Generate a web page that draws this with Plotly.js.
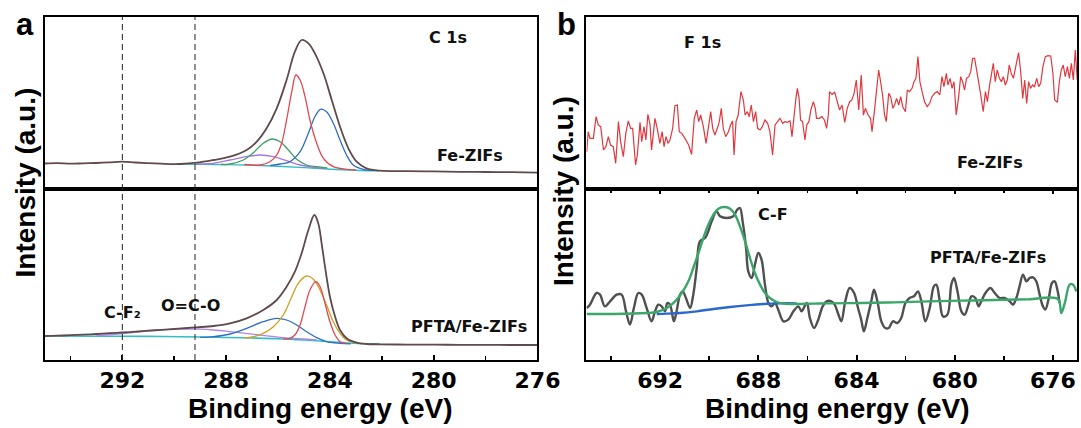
<!DOCTYPE html>
<html><head><meta charset="utf-8">
<script src="https://cdn.plot.ly/plotly-3.0.1.min.js"></script>
<style>html,body{margin:0;padding:0;background:#fff;}#chart{width:1081px;height:428px;}</style>
</head><body><div id="chart"></div>
<script>
// ---------- Panel a, Fe-ZIFs (C 1s) ----------
const aTopEnvX = [295,294.5,294,293.5,293,292.5,292,291.5,291,290.5,290,289.78,289.14,288.49,287.85,287.21,286.82,286.44,286.05,285.67,285.35,285.09,284.83,284.58,284.25,283.93,283.61,283.29,282.97,282.59,282.07,281,280,279,278,277,276];
const aTopEnvY = [25.5,25.9,25.3,25.7,26.0,26.6,27.4,26.5,25.8,25.3,24.9,25,26.3,29,32.3,39,47.3,60.7,80.7,109,137.3,149,145.7,135.7,115.7,89,62.3,40.7,27.3,20.7,18.3,17.8,17.6,17.2,17.0,16.8,16.4];
const aTopRedX = [287.3,286.69,286.31,286.05,285.86,285.67,285.47,285.31,285.15,284.96,284.77,284.51,284.25,283.87,283.36,283];
const aTopRedY = [24.5,24,27.3,34,45.7,69,97.3,114,109,92.3,69,45.7,30.7,22.3,19.7,19];
const aTopBlueX = [286.3,285.92,285.54,285.15,284.83,284.58,284.36,284.13,283.87,283.61,283.36,283.10,282.71,282.3];
const aTopBlueY = [23.5,25,27.3,37.3,55.7,72.3,79.7,77.3,65.7,49,34,24,19.7,18.6];
const aTopGreenX = [288.2,287.85,287.34,286.95,286.57,286.22,285.92,285.60,285.28,284.90,284.51,284.1];
const aTopGreenY = [24.5,25,29,36.3,45.7,50,47.3,39,29.7,24,22.3,21];
const aTopPurpleX = [289.2,288.49,287.85,287.21,286.69,286.18,285.67,285.15,284.64,284.2];
const aTopPurpleY = [24.8,25.7,29,32.3,34,32.3,28.3,24,21.7,20.5];
const aTopBaseX = [289.85,289,288,287,286,285,284,283,282.1];
const aTopBaseY = [25,24.8,24.4,23.8,22.8,21.4,19.8,18.7,18.2];

// ---------- Panel a, PFTA/Fe-ZIFs (C 1s) ----------
const aBotEnvX = [295,294.5,294,293.5,293,292.5,292,291.5,291,290.5,290,289.5,289.14,288.49,287.85,287.21,286.57,286.05,285.67,285.35,285.09,284.83,284.60,284.45,284.32,284.19,284.00,283.80,283.61,283.36,282.97,282.59,282.07,281,280,279,278,277,276];
const aBotEnvY = [24,24.3,24.8,25.3,26,26.8,27.5,28.4,29.3,30.2,31,32,32.7,34,36.7,41.7,50,60,73.3,88.3,106.7,130,145,136.7,116.7,93.3,63.3,43.3,30,21.7,17.3,16,15.7,15.4,15.3,15.2,15.1,15,15];
const aBotGoldX = [287.3,286.95,286.57,286.18,285.80,285.47,285.22,284.90,284.64,284.38,284.13,283.87,283.61,283.36,282.97];
const aBotGoldY = [22,23.3,26.7,33.3,45,63.3,76.7,84,80.7,70,55,38.3,26.7,20,16.7];
const aBotRedX = [285.8,285.54,285.35,285.15,284.96,284.77,284.54,284.38,284.19,284.00,283.80,283.61,283.36];
const aBotRedY = [21,21.7,25,35,53.3,70,78.3,73.3,56.7,38.3,25,18.3,16.7];
const aBotBlueX = [289,288.49,287.85,287.21,286.57,286.05,285.67,285.28,284.90,284.51,284.13,283.61,283.2];
const aBotBlueY = [22.6,23.3,26,31.7,38.3,41.7,40,35,28.3,22.3,18.3,16.7,16.2];
const aBotPurpleX = [293,292,291,290,289.5,289,288.5,288,287.5,287,286.5,286,285.5,285,284.5];
const aBotPurpleY = [24.5,26.5,29,30.8,31,30.8,30,28.8,27.3,25.8,24.3,22.8,21.8,21,20.2];
const aBotBaseX = [295,293,291,289.78,288,287,286,285,284,283.1,282.07];
const aBotBaseY = [24,23.8,23.6,23.3,22.5,22,21.3,20,18.3,16.7,16];
const aMarkerLines = [292, 289.2];

// ---------- Panel b, Fe-ZIFs (F 1s) ----------
const bTopX = [
694.99,694.93,694.86,694.72,694.61,694.52,694.42,694.31,694.21,694.11,
694.02,693.91,693.81,693.70,693.61,693.50,693.40,693.30,693.20,693.12,
693.00,692.93,692.82,692.75,692.66,692.58,692.50,692.41,692.35,692.21,
692.12,692.01,691.92,691.84,691.76,691.68,691.60,691.49,691.40,691.30,
691.22,691.12,691.03,690.92,690.84,690.72,690.61,690.51,690.43,690.35,
690.24,690.13,690.04,689.94,689.86,689.77,689.67,689.59,689.51,689.43,
689.33,689.22,689.13,689.05,688.99,688.91,688.82,688.71,688.61,688.54,
688.45,688.37,688.29,688.20,688.11,688.03,687.93,687.84,687.73,687.62,
687.53,687.42,687.32,687.21,687.12,687.01,686.92,686.82,686.71,686.63,
686.55,686.47,686.41,686.34,686.28,686.20,686.10,686.03,685.94,685.86,
685.76,685.68,685.63,685.52,685.41,685.31,685.22,685.15,
685.10,685.00,684.89,684.78,684.69,684.59,684.48,684.38,684.28,684.19,
684.10,684.01,683.91,683.81,683.72,683.64,683.53,683.43,683.37,683.26,
683.18,683.10,683.02,682.94,682.86,682.79,682.69,682.61,682.52,682.45,
682.37,682.28,682.20,682.12,682.01,681.93,681.84,681.74,681.66,681.58,
681.50,681.42,681.33,681.23,681.12,681.02,680.93,680.82,680.71,680.61,
680.52,680.44,680.34,680.28,680.19,680.11,680.03,679.94,679.84,679.76,
679.68,679.60,679.52,679.43,679.35,679.27,679.19,679.11,679.03,678.94,
678.84,678.75,678.67,678.59,678.51,678.43,678.35,678.27,678.18,678.10,
678.02,677.94,677.86,677.78,677.70,677.61,677.53,677.45,677.40,677.32,
677.23,677.15,677.07,676.99,676.91,676.83,676.75,676.66,676.58,676.50,
676.41,676.31,676.20,676.09,676.00,675.93,675.82,675.74,675.66,675.58,
675.50,675.41,675.33,675.25,675.17,675.09,675.01];
const bTopY = [
112,172,152,152,217,192,187,117,127,157,
132,127,77,202,142,97,167,204,182,182,
72,102,200,142,187,147,224,192,117,212,
182,137,172,127,157,137,147,182,250,252,
172,167,157,142,132,104,212,237,202,222,
187,137,182,232,182,162,182,202,242,182,
157,172,192,204,102,202,222,292,267,222,
232,217,252,202,232,182,177,187,207,197,
172,102,192,204,212,197,202,200,204,157,
222,272,302,272,207,202,147,192,202,237,
262,242,212,212,217,207,182,222,
292,284,290,262,237,252,200,242,262,267,
287,327,237,342,222,242,222,212,172,242,
292,357,322,282,222,202,287,277,242,252,
272,252,277,247,232,297,292,302,322,332,
397,322,292,262,247,257,277,287,292,282,
337,307,347,312,332,302,322,222,277,337,
322,297,332,337,352,392,392,362,322,282,
232,292,262,307,342,377,322,357,332,322,
337,312,327,372,347,332,362,392,409,357,
272,327,257,322,302,312,307,332,307,317,
367,397,400,399,347,267,260,322,357,372,
337,367,332,377,327,417,327];

// ---------- Panel b, PFTA/Fe-ZIFs (F 1s) ----------
const bBotX = [
694.99,694.86,694.59,694.45,694.25,694.04,693.77,693.57,693.39,693.23,
693.07,692.89,692.75,692.55,692.35,692.21,692.07,691.94,691.80,691.71,
691.60,691.44,691.33,691.19,691.08,690.95,690.78,690.65,690.51,690.38,
690.17,690.04,689.90,689.70,689.56,689.29,689.02,688.86,688.75,688.64,
688.50,688.41,688.27,688.14,688.00,687.87,687.73,687.59,687.46,687.32,
687.19,686.98,686.78,686.57,686.37,686.24,686.03,685.90,685.73,685.56,
685.38,685.22,685.03,684.89,684.76,684.62,684.46,684.28,684.10,683.94,
683.81,683.70,683.56,683.40,683.29,683.15,682.99,682.83,682.69,682.52,
682.34,682.18,682.01,681.84,681.66,681.50,681.36,681.20,681.02,680.85,
680.75,680.61,680.48,680.30,680.14,680.03,679.89,679.73,679.60,679.46,
679.32,679.16,679.03,678.92,678.75,678.55,678.37,678.17,677.97,677.76,
677.63,677.49,677.36,677.22,677.08,676.95,676.81,676.68,676.54,676.41,
676.31,676.17,676.04,675.93,675.82,675.73];
const bBotY = [
156,166,201,196,161,176,196,196,146,106,
156,201,196,156,116,146,166,161,146,171,
166,116,146,196,206,186,156,196,276,356,
366,386,416,446,431,426,431,451,456,416,
336,266,246,286,321,301,226,171,161,171,
151,116,121,146,161,146,171,126,96,121,
161,176,176,166,141,116,176,216,201,156,
121,86,126,176,211,176,116,96,96,116,
111,126,171,186,191,206,176,116,156,221,
226,176,131,136,226,246,206,146,136,161,
191,186,161,176,201,216,201,186,186,176,
166,186,221,256,236,246,248,236,196,161,
151,186,231,236,211,171];
const bFitX = [694.99,693.91,692.55,692.14,691.73,691.39,691.12,690.85,690.65,690.44,690.24,690.04,689.83,689.63,689.36,689.15,688.95,688.75,688.54,688.34,688.14,687.93,687.73,687.53,687.25,686.98,686.57,685.76,685.16,683.81,682.45,681.09,679.73,678.37,677.02,675.80,675.66,675.50,675.32,675.18,675.05];
const bFitY = [138,138,141,144,156,176,201,236,276,321,366,406,436,454,459,454,436,401,356,306,261,226,201,186,174,169,168,169,170,171,173,176,178,180,182,183,141,176,226,226,206];
const bBaseX = [692.14,691.73,691.19,690.51,689.83,689.15,688.48,687.80,687.12,686.44];
const bBaseY = [138,139,141,146,153,159,164,168,170,170];

const aTicks = [292,288,284,280,276];
const bTicks = [692,688,684,680,676];

// ---------- figure ----------
function ln(x, y, color, width, xa, ya, shape) {
  return {type:'scatter', mode:'lines', x:x, y:y, xaxis:xa, yaxis:ya,
    line:{color:color, width:width, shape:shape||'spline', smoothing:1}, hoverinfo:'skip', showlegend:false};
}
const traces = [
  ln(aTopBaseX,aTopBaseY,'#35bcc4',1.4,'x','y'),
  ln(aTopPurpleX,aTopPurpleY,'#a678dc',1.3,'x','y'),
  ln(aTopGreenX,aTopGreenY,'#3f9e62',1.3,'x','y'),
  ln(aTopBlueX,aTopBlueY,'#2f6ec4',1.3,'x','y'),
  ln(aTopRedX,aTopRedY,'#de4a50',1.3,'x','y'),
  ln(aTopEnvX,aTopEnvY,'#5f4a4c',1.8,'x','y'),
  ln(aBotBaseX,aBotBaseY,'#35bcc4',1.6,'x2','y2'),
  ln(aBotPurpleX,aBotPurpleY,'#b184e2',1.3,'x2','y2'),
  ln(aBotBlueX,aBotBlueY,'#2f6ec4',1.3,'x2','y2'),
  ln(aBotGoldX,aBotGoldY,'#cfa11e',1.3,'x2','y2'),
  ln(aBotRedX,aBotRedY,'#de4a50',1.3,'x2','y2'),
  ln(aBotEnvX,aBotEnvY,'#5f4a4c',1.8,'x2','y2'),
  ln(bTopX,bTopY,'#e0383e',1.2,'x3','y3','linear'),
  ln(bBotX,bBotY,'#505050',2.4,'x4','y4'),
  ln(bBaseX,bBaseY,'#2a68cc',2.4,'x4','y4'),
  ln(bFitX,bFitY,'#3aa66a',2.4,'x4','y4')
];

const XA = [0.04117, 0.49722], XB = [0.54255, 0.99676];
const YT = [0.55841, 0.96028], YB = [0.15888, 0.55841];
const frame = {showline:true, linecolor:'#000', linewidth:2, mirror:true, showgrid:false, zeroline:false, ticks:'', showticklabels:false, fixedrange:true};
const tickFont = {family:'DejaVu Sans, Arial', size:22, color:'#000', weight:'bold'};
function botAxis(dom, range, vals) {
  return Object.assign({}, frame, {domain:dom, range:range, ticks:'inside', ticklen:5, tickwidth:2, tickcolor:'#000',
    tickmode:'array', tickvals:vals, ticktext:vals.map(String), showticklabels:true, tickfont:tickFont,
    minor:{ticks:'inside', ticklen:4, tickwidth:1.5, tickcolor:'#000', tickmode:'linear', tick0:vals[vals.length-1], dtick:2}});
}
const annFont = {family:'DejaVu Sans, Arial', size:16, color:'#111', weight:'bold'};
function txt(x, y, t, font, extra) {
  return Object.assign({xref:'paper', yref:'paper', x:x/1081, y:1-y/428, text:t, showarrow:false,
    xanchor:'center', yanchor:'middle', font:font||annFont}, extra||{});
}
const bigFont = {family:'Liberation Sans, Arial', size:28, color:'#000', weight:'bold'};
const letterFont = {family:'Liberation Sans, Arial', size:31, color:'#000', weight:'bold'};

const layout = {
  width:1081, height:428, margin:{l:0,r:0,t:0,b:0}, paper_bgcolor:'#fff', plot_bgcolor:'rgba(0,0,0,0)',
  showlegend:false,
  xaxis: Object.assign({}, frame, {domain:XA, range:[295,276], anchor:'y'}),
  yaxis: Object.assign({}, frame, {domain:YT, range:[0,172], anchor:'x'}),
  xaxis2: Object.assign(botAxis(XA, [295,276], aTicks), {anchor:'y2', mirror:true}),
  yaxis2: Object.assign({}, frame, {domain:YB, range:[0,171], anchor:'x2'}),
  xaxis5: {overlaying:'x2', anchor:'y2', side:'top', range:[295,276], tickmode:'linear', tick0:276, dtick:1,
    ticks:'inside', ticklen:4, tickwidth:1.5, tickcolor:'#000', showticklabels:false, showline:false, showgrid:false, zeroline:false, fixedrange:true},
  xaxis3: Object.assign({}, frame, {domain:XB, range:[695,675], anchor:'y3'}),
  yaxis3: Object.assign({}, frame, {domain:YT, range:[0,516], anchor:'x3'}),
  xaxis4: Object.assign(botAxis(XB, [695,675], bTicks), {anchor:'y4', mirror:'allticks'}),
  yaxis4: Object.assign({}, frame, {domain:YB, range:[0,513], anchor:'x4'}),
  shapes: aMarkerLines.map(v => ({type:'line', xref:'x', yref:'paper', x0:v, x1:v, y0:YB[0], y1:YT[1],
    line:{color:'#222', width:1, dash:'6px,4px'}, layer:'above'})),
  annotations: [
    txt(25, 24.5, 'a', letterFont),
    txt(566.5, 24.5, 'b', letterFont),
    txt(24.5, 183, 'Intensity (a.u.)', bigFont, {textangle:-90}),
    txt(563, 191, 'Intensity (a.u.)', bigFont, {textangle:-90}),
    txt(320, 408.5, 'Binding energy (eV)', bigFont),
    txt(836.5, 408.5, 'Binding energy (eV)', bigFont),
    txt(447.5, 37.5, 'C 1s'),
    txt(469.5, 156, 'Fe-ZIFs'),
    txt(469, 326, 'PFTA/Fe-ZIFs'),
    txt(122, 312, 'C-F₂'),
    txt(190, 305, 'O=C-O'),
    txt(702.5, 43, 'F 1s'),
    txt(989.5, 162, 'Fe-ZIFs'),
    txt(773, 214.5, 'C-F'),
    txt(987.5, 257, 'PFTA/Fe-ZIFs')
  ]
};
Plotly.newPlot('chart', traces, layout, {displayModeBar:false, staticPlot:true});
</script></body></html>
